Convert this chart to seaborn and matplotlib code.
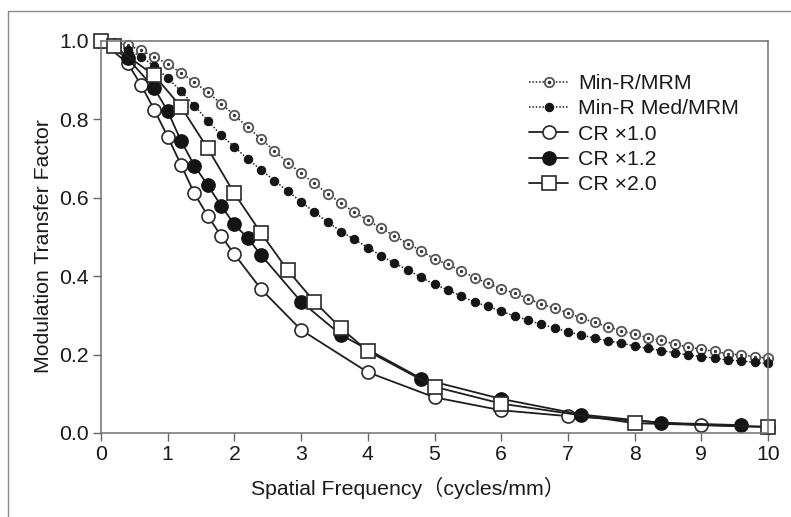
import matplotlib
matplotlib.use("Agg")
import matplotlib.pyplot as plt
import seaborn as sns
from matplotlib.lines import Line2D
from matplotlib.legend_handler import HandlerTuple

# ---------------- data ----------------
freq_minr = [0.0, 0.2, 0.4, 0.6, 0.8, 1.0, 1.2, 1.4, 1.6, 1.8, 2.0, 2.2, 2.4, 2.6, 2.8,
             3.0, 3.2, 3.4, 3.6, 3.8, 4.0, 4.2, 4.4, 4.6, 4.8, 5.0, 5.2, 5.4, 5.6, 5.8,
             6.0, 6.2, 6.4, 6.6, 6.8, 7.0, 7.2, 7.4, 7.6, 7.8, 8.0, 8.2, 8.4, 8.6, 8.8,
             9.0, 9.2, 9.4, 9.6, 9.8, 10.0]
mtf_minr = [1.000, 0.995, 0.990, 0.976, 0.960, 0.941, 0.919, 0.895, 0.869, 0.840, 0.811,
            0.780, 0.750, 0.720, 0.690, 0.662, 0.637, 0.610, 0.586, 0.563, 0.543, 0.522,
            0.503, 0.483, 0.465, 0.444, 0.430, 0.414, 0.396, 0.382, 0.367, 0.357, 0.343,
            0.329, 0.318, 0.307, 0.293, 0.282, 0.271, 0.261, 0.252, 0.243, 0.236, 0.227,
            0.219, 0.214, 0.208, 0.202, 0.199, 0.195, 0.191]
mtf_minr_med = [1.000, 0.990, 0.978, 0.960, 0.936, 0.905, 0.872, 0.835, 0.797, 0.760, 0.730,
                0.699, 0.671, 0.644, 0.617, 0.590, 0.563, 0.538, 0.514, 0.494, 0.473, 0.452,
                0.433, 0.416, 0.397, 0.379, 0.365, 0.349, 0.334, 0.323, 0.311, 0.298, 0.288,
                0.277, 0.268, 0.258, 0.250, 0.242, 0.235, 0.229, 0.222, 0.216, 0.210, 0.205,
                0.199, 0.195, 0.191, 0.186, 0.184, 0.180, 0.178]

freq_cr10 = [0.0, 0.4, 0.6, 0.8, 1.0, 1.2, 1.4, 1.6, 1.8, 2.0, 2.4, 3.0, 4.0, 5.0, 6.0, 7.0, 9.0, 10.0]
mtf_cr10 = [1.000, 0.943, 0.888, 0.824, 0.756, 0.684, 0.611, 0.554, 0.503, 0.456, 0.367,
            0.263, 0.155, 0.091, 0.058, 0.043, 0.020, 0.015]

freq_cr12 = [0.0, 0.4, 0.8, 1.0, 1.2, 1.4, 1.6, 1.8, 2.0, 2.2, 2.4, 3.0, 3.6, 4.8, 6.0, 7.2, 8.4, 9.6]
mtf_cr12 = [1.000, 0.956, 0.879, 0.821, 0.745, 0.682, 0.632, 0.580, 0.532, 0.497, 0.454,
            0.335, 0.250, 0.139, 0.087, 0.047, 0.026, 0.020]

freq_cr20 = [0.0, 0.2, 0.8, 1.2, 1.6, 2.0, 2.4, 2.8, 3.2, 3.6, 4.0, 5.0, 6.0, 8.0, 10.0]
mtf_cr20 = [1.000, 0.986, 0.912, 0.832, 0.726, 0.611, 0.510, 0.415, 0.335, 0.267, 0.209,
            0.118, 0.075, 0.025, 0.016]

labels = ["Min-R/MRM", "Min-R Med/MRM", "CR \u00d71.0", "CR \u00d71.2", "CR \u00d72.0"]
x_ticks = [0, 1, 2, 3, 4, 5, 6, 7, 8, 9, 10]
y_ticks = [0.0, 0.2, 0.4, 0.6, 0.8, 1.0]
x_label = "Spatial Frequency\uff08cycles/mm\uff09"
y_label = "Modulation Transfer Factor"

# ---------------- style ----------------
sns.set_style("white")
plt.rcParams["font.family"] = ["Liberation Sans", "Noto Sans CJK JP", "DejaVu Sans"]
FS = 15.3
LINE = "#1e1e1e"
EDGE = "#2a2a2a"

fig = plt.figure(figsize=(7.91, 5.17), dpi=100)
ax = fig.add_axes([101 / 791, 1 - 433 / 517, 667 / 791, 392 / 517])

common = dict(sort=False, estimator=None, ax=ax, clip_on=False)

sns.lineplot(x=freq_minr, y=mtf_minr, color=LINE, linestyle=(0, (1, 1.2)), linewidth=1.1,
             marker="o", markersize=6.8, markerfacecolor="white",
             markeredgecolor="#555555", markeredgewidth=1.3, label=labels[0], **common)
# centre dots of the Min-R/MRM markers
sns.lineplot(x=freq_minr, y=mtf_minr, color=LINE, linestyle="none",
             marker="o", markersize=1.6, markerfacecolor="#333333",
             markeredgecolor="#333333", **common)
sns.lineplot(x=freq_minr, y=mtf_minr_med, color=LINE, linestyle=(0, (1, 1.2)), linewidth=1.1,
             marker="o", markersize=6.0, markerfacecolor="#161616",
             markeredgecolor="#161616", markeredgewidth=0.8, label=labels[1], **common)
sns.lineplot(x=freq_cr10, y=mtf_cr10, color=LINE, linestyle="-", linewidth=1.3,
             marker="o", markersize=9.4, markerfacecolor="white",
             markeredgecolor=EDGE, markeredgewidth=1.2, label=labels[2], **common)
sns.lineplot(x=freq_cr12, y=mtf_cr12, color=LINE, linestyle="-", linewidth=1.3,
             marker="o", markersize=9.6, markerfacecolor="#141414",
             markeredgecolor="#141414", markeredgewidth=1.0, label=labels[3], **common)
sns.lineplot(x=freq_cr20, y=mtf_cr20, color=LINE, linestyle="-", linewidth=1.3,
             marker="s", markersize=10.2, markerfacecolor="white",
             markeredgecolor=EDGE, markeredgewidth=1.2, label=labels[4], **common)

ax.set_xlim(0, 10)
ax.set_ylim(0, 1.0)
ax.set_xticks(x_ticks)
ax.set_xticklabels([str(t) for t in x_ticks])
ax.set_yticks(y_ticks)
ax.set_yticklabels([f"{t:.1f}" for t in y_ticks])
ax.tick_params(axis="both", which="both", direction="out", length=6, width=1.0,
               color="#666666", labelsize=FS, labelcolor="#1a1a1a", pad=3,
               bottom=True, left=True, top=False, right=False)
for s in ax.spines.values():
    s.set_color("#707070")
    s.set_linewidth(1.1)
    s.set_visible(True)

ax.set_xlabel(x_label, fontsize=FS, color="#1a1a1a")
ax.set_ylabel(y_label, fontsize=FS, color="#1a1a1a")
ax.xaxis.set_label_coords(0.46, -44 / 392)
ax.yaxis.set_label_coords(-48 / 667, 0.477)

# legend
handles, labs = ax.get_legend_handles_labels()
dot = Line2D([], [], linestyle="none", marker="o", markersize=1.6,
             markerfacecolor="#333333", markeredgecolor="#333333")
handles[0] = (handles[0], dot)
leg = ax.legend(handles, labs, loc="upper left", bbox_to_anchor=(529 / 791, 1 - 74 / 517),
                bbox_transform=fig.transFigure, frameon=False, fontsize=FS,
                handlelength=1.84, handletextpad=0.47, labelspacing=0.3, borderpad=0,
                borderaxespad=0, handler_map={tuple: HandlerTuple(ndivide=1, pad=0)})
for t in leg.get_texts():
    t.set_color("#1a1a1a")

# outer frame of the original figure
fig.add_artist(Line2D([8 / 791, 8 / 791], [0, 1 - 11 / 517], transform=fig.transFigure,
                      color="#8a8a8a", linewidth=1.0))
fig.add_artist(Line2D([8 / 791, 1], [1 - 11 / 517, 1 - 11 / 517], transform=fig.transFigure,
                      color="#8a8a8a", linewidth=1.0))

fig.savefig("out.png", dpi=100, facecolor="white")
